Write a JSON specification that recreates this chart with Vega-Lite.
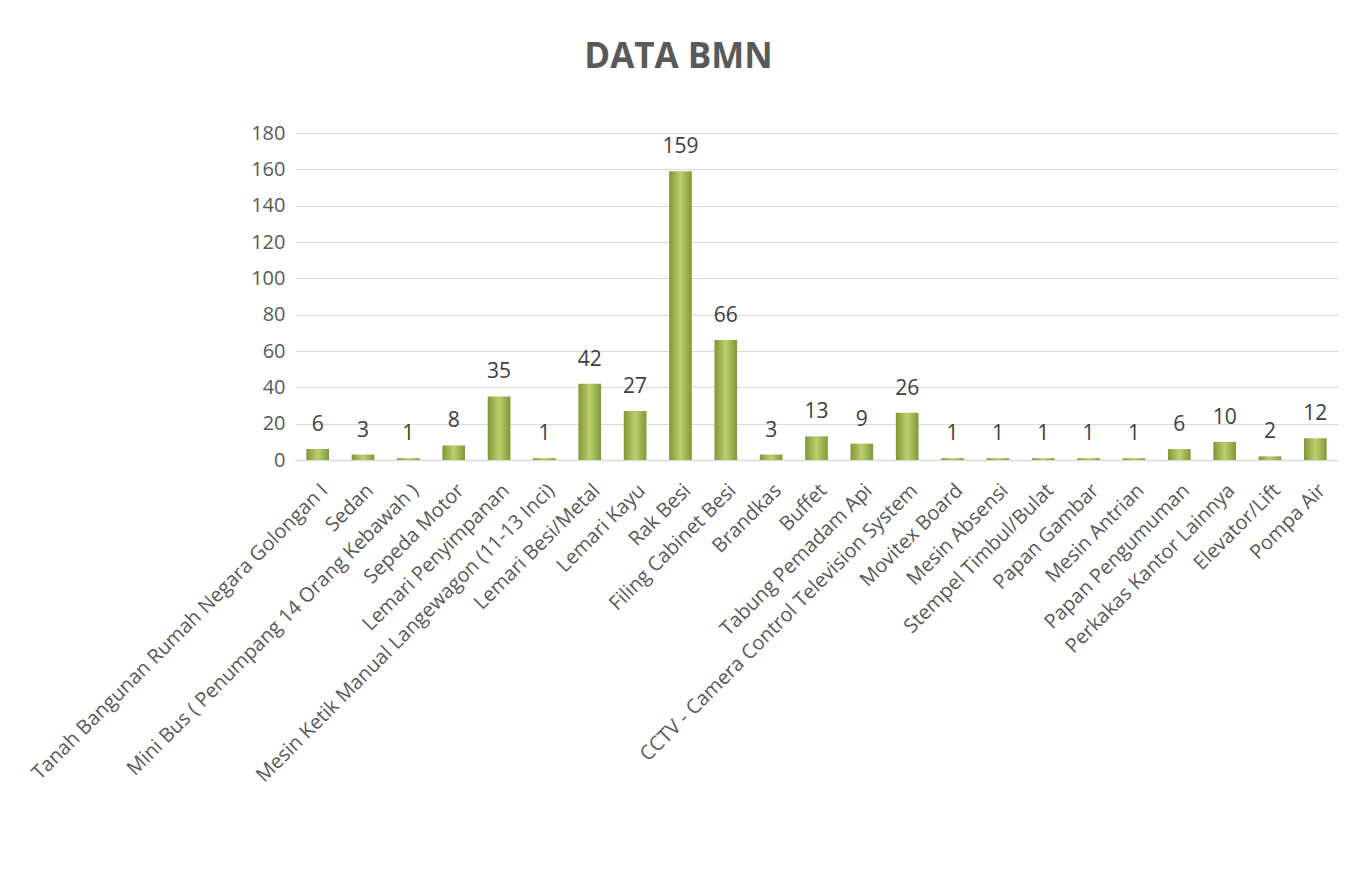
{
  "$schema": "https://vega.github.io/schema/vega-lite/v6.json",
  "autosize": {"type": "none"},
  "width": 1043,
  "height": 327,
  "padding": {"left": 295, "top": 133, "right": 13, "bottom": 411},
  "background": "white",
  "title": {
    "text": "DATA BMN",
    "anchor": "middle",
    "frame": "group",
    "dx": -138,
    "offset": 48,
    "font": "Open Sans",
    "fontSize": 35,
    "fontWeight": "bold",
    "color": "#595959"
  },
  "config": {
    "view": {"stroke": null},
    "font": "Open Sans"
  },
  "data": {
    "values": [
      {"kategori": "Tanah Bangunan Rumah Negara Golongan I", "jumlah": 6},
      {"kategori": "Sedan", "jumlah": 3},
      {"kategori": "Mini Bus ( Penumpang 14 Orang Kebawah )", "jumlah": 1},
      {"kategori": "Sepeda Motor", "jumlah": 8},
      {"kategori": "Lemari Penyimpanan", "jumlah": 35},
      {"kategori": "Mesin Ketik Manual Langewagon (11-13 Inci)", "jumlah": 1},
      {"kategori": "Lemari Besi/Metal", "jumlah": 42},
      {"kategori": "Lemari Kayu", "jumlah": 27},
      {"kategori": "Rak Besi", "jumlah": 159},
      {"kategori": "Filing Cabinet Besi", "jumlah": 66},
      {"kategori": "Brandkas", "jumlah": 3},
      {"kategori": "Buffet", "jumlah": 13},
      {"kategori": "Tabung Pemadam Api", "jumlah": 9},
      {"kategori": "CCTV - Camera Control Television System", "jumlah": 26},
      {"kategori": "Movitex Board", "jumlah": 1},
      {"kategori": "Mesin Absensi", "jumlah": 1},
      {"kategori": "Stempel Timbul/Bulat", "jumlah": 1},
      {"kategori": "Papan Gambar", "jumlah": 1},
      {"kategori": "Mesin Antrian", "jumlah": 1},
      {"kategori": "Papan Pengumuman", "jumlah": 6},
      {"kategori": "Perkakas Kantor Lainnya", "jumlah": 10},
      {"kategori": "Elevator/Lift", "jumlah": 2},
      {"kategori": "Pompa Air", "jumlah": 12}
    ]
  },
  "encoding": {
    "x": {
      "field": "kategori",
      "type": "nominal",
      "sort": null,
      "scale": {"paddingInner": 0.5, "paddingOuter": 0.25},
      "axis": {
        "title": null,
        "labelAngle": -45,
        "labelAlign": "right",
        "labelBaseline": "top",
        "labelFontSize": 20,
        "labelColor": "#595959",
        "labelPadding": 20,
        "labelLimit": 0,
        "labelOverlap": false,
        "ticks": false,
        "domainColor": "#d9d9d9",
        "domainWidth": 1.5,
        "grid": false
      }
    },
    "y": {
      "field": "jumlah",
      "type": "quantitative",
      "scale": {"domain": [0, 180], "nice": false},
      "axis": {
        "title": null,
        "values": [0, 20, 40, 60, 80, 100, 120, 140, 160, 180],
        "labelFontSize": 20,
        "labelColor": "#595959",
        "labelPadding": 10,
        "ticks": false,
        "domain": false,
        "gridColor": "#d9d9d9",
        "gridWidth": 1
      }
    }
  },
  "layer": [
    {
      "mark": {
        "type": "bar",
        "color": {
          "gradient": "linear",
          "x1": 0, "x2": 1, "y1": 0, "y2": 0,
          "stops": [
            {"offset": 0, "color": "#7f9838"},
            {"offset": 0.5, "color": "#bccf6c"},
            {"offset": 1, "color": "#7f9838"}
          ]
        }
      }
    },
    {
      "mark": {
        "type": "text",
        "baseline": "alphabetic",
        "dy": -18,
        "fontSize": 21,
        "color": "#404040"
      },
      "encoding": {"text": {"field": "jumlah", "type": "quantitative"}}
    }
  ]
}
